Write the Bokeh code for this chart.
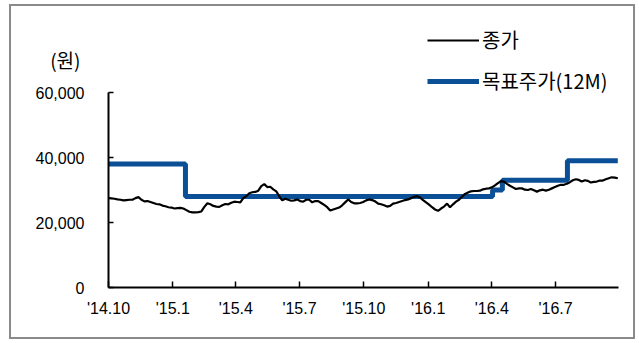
import pandas as pd
from bokeh.plotting import figure
from bokeh.models import (Range1d, FixedTicker, NumeralTickFormatter, Legend,
                          LegendItem, LinearAxis)
from bokeh.embed import file_html
from bokeh.resources import INLINE

# Daily close (won), sampled evenly from 2014-10-01 to 2016-09-28
close_start = "2014-10-01"
close_end = "2016-09-28"
close = [
    27500, 27400, 27300, 27100, 27000, 26800, 26900, 27000, 27000, 27500,
    27800, 27000, 26500, 26600, 26300, 26000, 25700, 25600, 25200, 25000,
    24700, 24600, 24300, 24400, 24500, 24300, 23800, 23300, 23100, 23100,
    23200, 23400, 24800, 25900, 25600, 25100, 24900, 24800, 25300, 25700,
    25600, 26100, 26400, 26300, 26200, 27500, 28100, 29000, 29300, 29400,
    29800, 31200, 31800, 30900, 31000, 30200, 29600, 28000, 26800, 27300,
    27000, 26700, 26800, 27100, 26600, 26400, 27000, 27000, 26200, 26600,
    26600, 26000, 25400, 24700, 23700, 24000, 24300, 24600, 25300, 26200,
    27100, 26300, 25900, 25900, 26000, 26300, 26800, 27100, 26900, 26500,
    25800, 25600, 25300, 24900, 25100, 25800, 26000, 26300, 26600, 26900,
    27100, 27500, 27900, 28100, 27700, 26900, 26200, 25500, 24700, 24000,
    23600, 24300, 24900, 25800, 24700, 25600, 26400, 27000, 27900, 28800,
    29200, 29600, 29700, 29700, 29800, 30200, 30400, 30500, 30800, 31400,
    32100, 32700, 32600, 31900, 31300, 30800, 30300, 30500, 30500, 30100,
    30000, 30300, 29900, 29500, 29900, 30100, 29800, 30100, 30500, 30900,
    31300, 31600, 31600, 31900, 32400, 33000, 33300, 33100, 32600, 33000,
    32800, 32300, 32500, 32600, 32900, 32900, 33300, 33600, 33900, 33800,
    33600,
]

# 12-month target price changes
target_dates = ["2014-10-01", "2015-01-19", "2016-04-02", "2016-04-16",
                "2016-07-18", "2016-09-28"]
target_price = [38000, 28000, 30000, 33000, 39000, 39000]

tick_dates = ["2014-10-01", "2015-01-01", "2015-04-01", "2015-07-01",
              "2015-10-01", "2016-01-01", "2016-04-01", "2016-07-01"]
tick_labels = ["'14.10", "'15.1", "'15.4", "'15.7", "'15.10", "'16.1",
               "'16.4", "'16.7"]
y_ticks = [0, 20000, 40000, 60000]
unit_text = "(원)"

BLUE = "#0b4f96"
NUM_FONT = "Liberation Sans"
KR_FONT = "Noto Sans CJK KR"

# canvas geometry (inside the grey frame)
W, H = 626, 335
FRAME_LEFT, FRAME_RIGHT, FRAME_BOTTOM = 97, 607, 281
AXIS_TOP_PX = 86          # where 60,000 sits
UNIT_PX = 53              # where the unit caption sits
y_top = y_ticks[-1] * FRAME_BOTTOM / (FRAME_BOTTOM - AXIS_TOP_PX)
unit_pos = y_ticks[-1] * (FRAME_BOTTOM - UNIT_PX) / (FRAME_BOTTOM - AXIS_TOP_PX)

close_dates = pd.date_range(close_start, close_end, periods=len(close))
t_dates = pd.to_datetime(target_dates)

p = figure(width=W, height=H, x_axis_type="datetime",
           x_range=Range1d(pd.Timestamp("2014-10-01"), pd.Timestamp("2016-09-29")),
           y_range=Range1d(0, y_top),
           output_backend="svg", toolbar_location=None,
           min_border_left=FRAME_LEFT, min_border_right=W - FRAME_RIGHT,
           min_border_top=0, min_border_bottom=H - FRAME_BOTTOM,
           styles={"margin-left": "9px", "margin-top": "4px",
                   "border": "2px solid #8a8a8a"})
p.title.visible = False
p.xgrid.visible = False
p.ygrid.visible = False
p.outline_line_color = None
p.background_fill_color = "white"
p.border_fill_color = "white"

r_target = p.step(x=t_dates, y=target_price, mode="after",
                  line_color=BLUE, line_width=5)
r_close = p.line(x=close_dates, y=close, line_color="black", line_width=2.2)

# x axis
tick_ms = [float(pd.Timestamp(d).value // 10**6) for d in tick_dates]
xa = p.xaxis[0]
xa.ticker = FixedTicker(ticks=tick_ms, minor_ticks=[])
xa.major_label_overrides = dict(zip(tick_ms, tick_labels))
xa.axis_line_color = "black"
xa.axis_line_width = 2
xa.major_tick_line_color = "black"
xa.major_tick_line_width = 1.5
xa.major_tick_in = 6
xa.major_tick_out = 0
xa.minor_tick_line_color = None
xa.major_label_standoff = 12
xa.major_label_text_font = NUM_FONT
xa.major_label_text_font_size = "16px"
xa.major_label_text_color = "black"

# y axis, drawn only up to 60,000
ya = p.yaxis[0]
ya.bounds = (y_ticks[0], y_ticks[-1])
ya.ticker = FixedTicker(ticks=y_ticks, minor_ticks=[])
ya.formatter = NumeralTickFormatter(format="0,0")
ya.axis_line_color = "black"
ya.axis_line_width = 2
ya.major_tick_line_color = "black"
ya.major_tick_line_width = 1.5
ya.major_tick_in = 5
ya.major_tick_out = 0
ya.minor_tick_line_color = None
ya.major_label_standoff = 24
ya.major_label_text_font = NUM_FONT
ya.major_label_text_font_size = "16px"
ya.major_label_text_color = "black"

# unit caption above the value labels
p.extra_y_ranges = {"unit": Range1d(0, y_top)}
ua = LinearAxis(y_range_name="unit",
                ticker=FixedTicker(ticks=[unit_pos], minor_ticks=[]),
                major_label_overrides={unit_pos: unit_text},
                axis_line_color=None, major_tick_line_color=None,
                minor_tick_line_color=None, major_label_standoff=-54,
                major_label_text_font=KR_FONT,
                major_label_text_font_size="19px",
                major_label_text_color="black")
p.add_layout(ua, "left")

legend = Legend(items=[LegendItem(label="종가", renderers=[r_close]),
                       LegendItem(label="목표주가(12M)", renderers=[r_target])],
                location=(319, 192), orientation="vertical",
                glyph_width=52, glyph_height=20, label_height=20,
                label_standoff=3, spacing=12, padding=0, margin=0,
                border_line_color=None, background_fill_alpha=0,
                label_text_font=KR_FONT, label_text_font_size="20px",
                label_text_color="black")
p.add_layout(legend, "center")

open("out.html", "w").write(file_html(p, INLINE))
